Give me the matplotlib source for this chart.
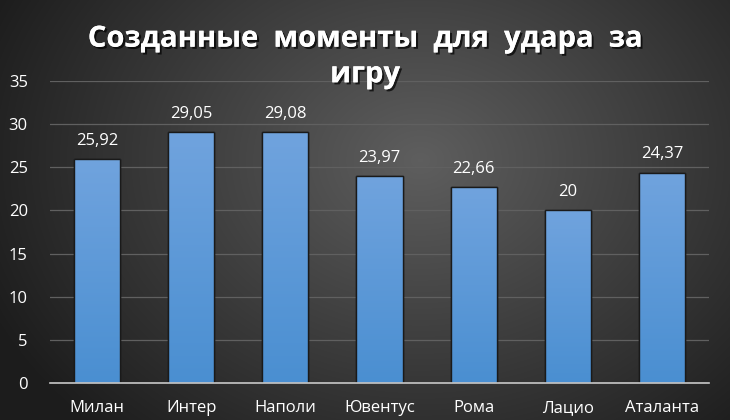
import numpy as np
import matplotlib.pyplot as plt
import matplotlib.patheffects as pe

teams = ["Милан", "Интер", "Наполи", "Ювентус", "Рома", "Лацио", "Аталанта"]
values = [25.92, 29.05, 29.08, 23.97, 22.66, 20, 24.37]
labels = ["25,92", "29,05", "29,08", "23,97", "22,66", "20", "24,37"]
yticks = [0, 5, 10, 15, 20, 25, 30, 35]
title = "Созданные  моменты  для  удара  за\nигру"

plt.rcParams["font.family"] = ["Open Sans", "DejaVu Sans"]

fig = plt.figure(figsize=(7.3, 4.2), dpi=100)

# radial gradient background
bg = fig.add_axes([0, 0, 1, 1], zorder=-10)
yy, xx = np.mgrid[0:420, 0:730]
r = np.sqrt(((xx - 420) / 420.0) ** 2 + ((yy - 160) / 330.0) ** 2)
shade = np.clip(0.37 - 0.23 * r, 0.11, 0.37)
bg.imshow(np.dstack([shade] * 3), aspect="auto", extent=[0, 1, 0, 1])
bg.axis("off")

ax = fig.add_axes([50 / 730, 37 / 420, 659 / 730, 302 / 420])
ax.set_facecolor("none")
x = np.arange(len(teams))
bars = ax.bar(x, values, width=0.49, color="#5b9bd5", edgecolor="#1a1a1a",
              linewidth=1.0, zorder=3)

# vertical gradient inside bars
grad = np.linspace(0, 1, 256).reshape(-1, 1)
top = np.array([0.44, 0.64, 0.87])
bot = np.array([0.29, 0.56, 0.82])
img = top * (1 - grad[..., None]) + bot * grad[..., None]
img = np.repeat(img, 2, axis=1)
for b in bars:
    im = ax.imshow(img, extent=[b.get_x(), b.get_x() + b.get_width(), 0, b.get_height()],
                   aspect="auto", zorder=3.5)
    im.set_clip_path(b)
    ax.add_patch(plt.Rectangle((b.get_x(), 0), b.get_width(), b.get_height(),
                               fill=False, edgecolor="#1a1a1a", linewidth=1.0, zorder=4))

for xi, v, lab in zip(x, values, labels):
    ax.text(xi, v + 1.2, lab, ha="center", va="bottom", color="white", fontsize=12)

ax.set_xlim(-0.5, len(teams) - 0.5)
ax.set_ylim(0, 35)
ax.set_yticks(yticks)
ax.set_xticks(x)
ax.set_xticklabels(teams)
ax.tick_params(colors="white", labelsize=12, length=0, pad=12)
ax.tick_params(axis="y", pad=16)
ax.grid(axis="y", color="#606060", linewidth=0.9, zorder=0)
for s in ["top", "right", "left"]:
    ax.spines[s].set_visible(False)
ax.spines["bottom"].set_color("#c8c8c8")
ax.spines["bottom"].set_linewidth(1.2)
ax.spines["bottom"].set_zorder(5)

fig.text(365 / 730, 1 - 57 / 420, title, ha="center", va="center", color="white",
         fontsize=21, fontweight="bold", linespacing=1.3,
         path_effects=[pe.withSimplePatchShadow(offset=(1.5, -1.5), shadow_rgbFace="black", alpha=0.7),
                       pe.Normal()])

fig.savefig("out.png", dpi=100)
